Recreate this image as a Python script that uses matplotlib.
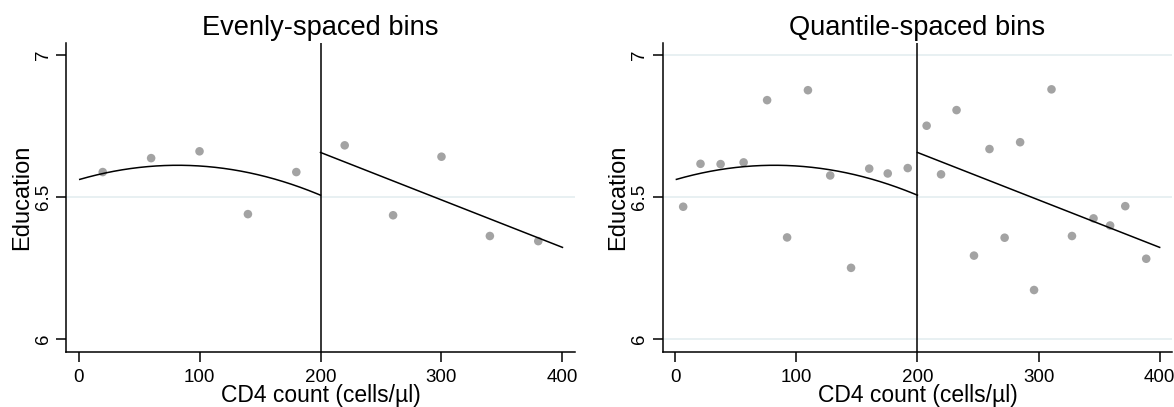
import numpy as np
import matplotlib
matplotlib.use("Agg")
import matplotlib.pyplot as plt

plt.rcParams["font.family"] = ["Liberation Sans", "DejaVu Sans"]

# bin means, evenly-spaced bins
even_x = [20, 60, 100, 140, 180, 220, 260, 300, 340, 380]
even_y = [6.588, 6.637, 6.661, 6.440, 6.588, 6.682, 6.436, 6.642, 6.363, 6.345]

# bin means, quantile-spaced bins
quant_x = [6.6, 20.9, 37.5, 56.5, 75.9, 92.4, 109.6, 128.0, 145.2, 160.2, 175.5, 192.0,
           207.6, 219.5, 232.3, 246.7, 259.5, 272.0, 284.8, 296.3, 310.7, 327.6, 345.4,
           359.1, 371.6, 388.9]
quant_y = [6.466, 6.617, 6.616, 6.622, 6.841, 6.358, 6.876, 6.576, 6.251, 6.600, 6.583, 6.602,
           6.751, 6.580, 6.806, 6.294, 6.669, 6.357, 6.693, 6.173, 6.879, 6.363, 6.425,
           6.400, 6.468, 6.283]

# fitted lines (raw data): quadratic below cutoff, linear above
cutoff = 200
fit_below = [6.561, 1.24e-3, -7.56e-6]  # b0, b1, b2
fit_above = [6.657, -1.67e-3]           # value at cutoff, slope
x_min, x_max = 1, 400

titles = ["Evenly-spaced bins", "Quantile-spaced bins"]
grid_lines = [[6.5], [6, 6.5, 7]]
yticks = [6, 6.5, 7]
ytick_labels = ["6", "6.5", "7"]
xticks = [0, 100, 200, 300, 400]

fig = plt.figure(figsize=(11.74, 4.07), dpi=100)
axes = [fig.add_axes([0.0566, 0.1359, 0.4328, 0.7577]),
        fig.add_axes([0.5648, 0.1359, 0.4333, 0.7577])]

xb = np.linspace(x_min, cutoff, 200)
xa = np.linspace(cutoff, x_max, 50)
yb = fit_below[0] + fit_below[1] * xb + fit_below[2] * xb ** 2
ya = fit_above[0] + fit_above[1] * (xa - cutoff)

data = [(even_x, even_y), (quant_x, quant_y)]

for ax, (bx, by), title, grid in zip(axes, data, titles, grid_lines):
    for g in grid:
        ax.axhline(g, color="#E4EDF0", lw=1.2, zorder=0)
    ax.scatter(bx, by, s=38, color="#A3A3A3", edgecolors="none", zorder=2)
    ax.plot(xb, yb, color="black", lw=1.1, zorder=3)
    ax.plot(xa, ya, color="black", lw=1.1, zorder=3)
    ax.axvline(cutoff, color="black", lw=1.1, zorder=3)

    ax.set_xlim(-10, 410)
    ax.set_ylim(5.956, 7.041)
    ax.set_xticks(xticks)
    ax.set_yticks(yticks)
    ax.set_yticklabels(ytick_labels, rotation=90, va="center")

    for s in ["top", "right"]:
        ax.spines[s].set_visible(False)
    for s in ["left", "bottom"]:
        ax.spines[s].set_linewidth(1.1)
    ax.tick_params(direction="out", length=7.5, width=1.1, labelsize=13.5, colors="black")
    ax.tick_params(axis="y", pad=3)
    ax.tick_params(axis="x", pad=5)

    ax.set_title(title, fontsize=19.6, pad=5.8)
    ax.set_xlabel("CD4 count (cells/µl)", fontsize=16.5, labelpad=-1.5)
    ax.set_ylabel("Education", fontsize=17)
    ax.yaxis.set_label_coords(-0.066, 0.5)

fig.savefig("out.png", dpi=100)
